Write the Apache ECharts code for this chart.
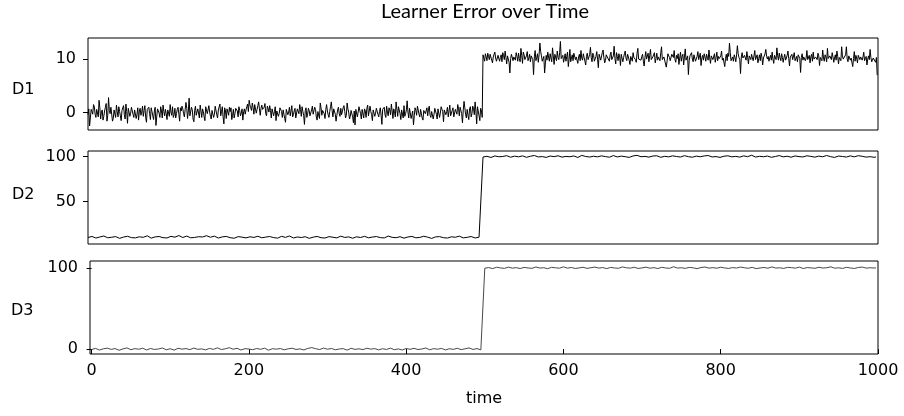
<!DOCTYPE html>
<html>
<head>
<meta charset="utf-8">
<script src="https://cdn.jsdelivr.net/npm/echarts@6/dist/echarts.min.js"></script>
<style>
  html, body { margin: 0; padding: 0; background: #fff; }
  #main { width: 904px; height: 416px; }
</style>
</head>
<body>
<div id="main"></div>
<script>
// sampling step (time units) of each series
var d1Step = 1;
var d2Step = 2.5;
var d3Step = 2.5;

var d1Values = [
  -0.4, 0.7, -2.5, -1.0, 0.6, 0.2, -0.3, 1.5, 1.1, -0.3,
  -0.9, 0.6, 0.4, -0.8, 2.3, 0.9, -1.2, 0.1, 0.5, -1.4,
  -0.7, 0.3, 1.0, 1.7, -1.6, -0.5, 2.8, 0.4, -0.2, 1.0,
  0.7, -1.6, -1.1, 0.5, 0.3, -0.9, 1.4, 0.2, -0.8, 1.1,
  0.2, -0.6, -1.5, 0.4, 0.9, 1.3, -0.4, -1.2, 1.6, 0.2,
  -2.0, 0.8, 0.5, -0.7, -0.1, 1.0, 1.2, -0.3, -0.9, 0.5,
  0.6, -1.1, -0.3, 0.9, -1.4, 0.3, 0.8, -0.5, 0.1, 1.2,
  -0.7, 0.4, 1.3, -0.9, -1.8, 0.6, 0.4, 1.0, -0.2, -1.3,
  0.9, 0.2, -0.6, -1.3, 0.3, 1.0, -2.4, -0.8, 0.7, 0.5,
  -0.1, -0.9, 1.1, 0.3, -1.0, 1.4, 0.2, -0.6, 0.6, -0.2,
  -1.3, 0.5, 0.4, -0.7, 1.5, 0.1, -0.5, 1.1, -0.9, -0.4,
  0.8, -1.0, -0.2, 0.6, 1.0, -0.3, -1.6, 0.9, 0.3, 1.2,
  0.7, -0.2, -0.8, 0.6, 1.9, 0.8, -1.1, 0.3, 2.7, -0.6,
  -0.4, 1.0, 0.5, -1.2, -1.7, 0.4, 1.2, -0.5, -0.3, 0.7,
  0.6, -1.0, 1.4, 0.3, -0.9, 0.7, 0.2, -0.8, -1.5, 1.1,
  0.8, -0.2, -0.4, 1.3, 0.1, -0.7, -1.2, 0.4, 0.5, -0.9,
  -0.3, 1.2, 0.9, -0.4, -1.0, 0.5, 0.4, 1.6, -0.6, 0.2,
  1.1, -0.8, -2.1, 0.9, 0.3, -1.1, 0.7, 0.1, -0.5, 1.0,
  0.2, 0.9, -1.3, -0.5, 0.6, -1.0, -0.2, 0.8, 1.0, 0.3,
  -0.8, 1.1, 0.4, -0.6, -0.1, 0.7, -1.4, 0.2, 0.7, -0.3,
  0.5, 1.1, 1.6, 0.2, 2.3, 1.4, 0.9, 0.4, 1.8, 0.9,
  -0.3, 1.5, 1.2, -0.1, 0.6, 1.3, 2.0, 0.7, -0.5, 0.8,
  1.4, 0.6, 0.3, 1.0, 1.7, -0.2, -0.6, 1.2, 0.8, 0.1,
  1.3, 0.4, -1.0, 0.7, 0.9, -0.6, 0.2, 1.1, -1.5, 0.3,
  0.6, -0.7, -0.2, 0.9, 1.1, 0.2, -0.9, 0.5, 0.4, -1.1,
  -1.8, 0.6, 0.7, -0.4, 0.1, 1.0, -0.6, 0.3, 1.3, -0.8,
  -0.4, 0.3, 0.8, -1.0, -1.2, 0.7, 0.5, -0.2, 1.5, 0.6,
  -0.7, 1.1, 0.2, -0.5, -2.2, 0.4, 0.9, -0.9, -0.3, 0.8,
  0.4, -0.6, -0.9, 0.5, 1.2, -0.3, -0.1, 1.0, 0.6, -0.8,
  -1.4, 0.2, 0.3, -1.1, 1.8, 0.9, -0.5, 0.4, 0.7, -0.2,
  -1.1, 0.6, 1.5, 0.3, -0.4, -0.9, 0.2, 1.1, 2.0, 0.4,
  -0.8, 0.7, 0.9, -0.3, -1.6, -0.5, 0.5, 1.0, -0.2, -0.7,
  0.8, -0.4, -0.6, 0.9, 1.3, 0.2, -1.0, -0.5, 1.8, 0.7,
  0.1, -1.2, -0.7, 0.4, 0.6, -0.8, -1.9, 0.3, -2.3, 0.6,
  0.4, -0.8, -0.5, 1.1, 1.0, -0.2, -1.2, 0.6, 0.3, -1.0,
  0.7, 0.3, -0.9, 0.8, 1.4, -0.6, -0.3, 1.2, 0.2, -0.4,
  -1.5, 0.5, 0.6, -0.7, -0.1, 0.8, 1.1, -0.3, -0.8, 0.2,
  0.9, -0.5, -2.2, 0.6, 0.3, 1.0, -0.4, -0.9, 1.2, 0.1,
  -0.6, 0.9, 0.5, -0.4, 1.6, 0.3, -1.1, 0.7, 0.2, -0.8,
  2.0, 0.6, -0.7, 1.1, 0.8, -0.2, -1.3, 0.5, 0.4, -1.0,
  1.3, -0.7, -0.2, 0.5, 2.2, 0.1, -1.0, 0.8, 0.6, -1.1,
  -0.4, 0.3, -2.3, -0.6, 0.9, 0.4, -0.5, 1.2, 1.0, -0.3,
  -0.8, 0.6, 0.3, -1.0, -1.4, 0.4, 0.7, -0.2, 0.1, 0.9,
  -0.6, 0.7, 1.2, -0.5, -0.9, 0.2, 0.5, -1.2, -0.3, 0.8,
  0.8, -0.3, -1.2, 0.7, 0.4, -0.9, -0.1, 1.1, 1.0, 0.2,
  -1.7, 0.5, 0.6, -0.4, 0.2, 1.0, -0.8, 0.3, 1.4, -0.6,
  -0.5, 0.4, 0.9, -0.8, -1.1, 0.6, 0.3, -0.3, 1.5, 0.8,
  -0.6, 1.0, 0.7, -0.2, -1.9, 0.5, 2.1, 0.9, -0.4, -1.0,
  0.6, -0.5, -1.3, 0.7, 1.1, -0.8, -0.2, 1.2, 0.8, -0.4,
  2.0, 0.3, -2.1, 1.1, 0.9, -0.6, -1.5, 0.8, 0.4, -0.9,
  10.8, 10.2, 9.6, 11.0, 10.4, 9.7, 11.1, 10.5, 9.9, 10.9,
  10.6, 9.8, 9.3, 10.4, 10.9, 11.3, 10.2, 9.6, 9.8, 10.7,
  11.0, 9.6, 10.3, 10.8, 9.5, 11.2, 10.7, 9.9, 11.5, 10.3,
  9.1, 10.6, 10.5, 9.4, 7.4, 10.1, 10.9, 11.0, 9.7, 10.4,
  10.4, 9.8, 11.2, 10.5, 9.6, 11.1, 10.1, 9.5, 12.0, 10.7,
  9.2, 11.3, 10.8, 9.9, 9.9, 10.6, 11.4, 9.7, 10.2, 10.9,
  9.5, 10.6, 10.9, 9.9, 7.1, 10.4, 11.6, 9.7, 10.3, 11.0,
  9.4, 10.8, 13.0, 11.4, 10.6, 9.6, 9.8, 10.5, 7.4, 9.3,
  10.7, 9.8, 11.3, 10.4, 9.6, 11.0, 10.2, 9.5, 12.1, 10.6,
  9.0, 10.9, 10.8, 9.7, 11.5, 10.3, 9.9, 11.2, 13.3, 10.1,
  10.1, 10.7, 9.4, 10.2, 11.0, 9.6, 10.5, 11.3, 8.6, 10.0,
  11.8, 9.5, 10.2, 10.8, 9.7, 11.1, 11.2, 9.9, 10.4, 10.6,
  9.2, 10.4, 10.9, 9.7, 11.6, 10.2, 9.8, 11.0, 10.3, 9.6,
  8.9, 10.5, 11.1, 9.9, 10.0, 10.8, 12.2, 10.3, 9.5, 11.1,
  10.7, 9.6, 9.9, 10.5, 11.4, 10.0, 8.4, 10.9, 10.6, 9.8,
  10.1, 11.2, 11.7, 10.3, 9.3, 9.7, 10.8, 10.6, 10.2, 9.9,
  9.6, 10.8, 11.3, 9.9, 10.0, 10.6, 12.4, 10.1, 9.1, 11.2,
  10.5, 9.7, 11.0, 10.4, 8.8, 10.9, 10.9, 9.5, 10.3, 11.0,
  11.5, 10.2, 9.7, 10.9, 10.4, 9.8, 9.0, 10.5, 10.8, 9.6,
  11.2, 10.3, 10.6, 9.9, 9.4, 11.1, 12.0, 10.0, 10.1, 9.7,
  9.8, 10.5, 10.9, 9.6, 8.7, 10.3, 11.4, 10.0, 10.2, 11.1,
  9.5, 10.7, 11.8, 9.9, 10.0, 10.4, 10.6, 11.2, 9.3, 10.1,
  11.1, 9.8, 10.4, 10.6, 9.7, 11.2, 12.3, 9.9, 9.9, 10.4,
  10.7, 10.1, 8.5, 9.6, 11.0, 10.8, 10.3, 9.7, 9.6, 10.9,
  10.8, 10.3, 11.6, 9.9, 9.4, 10.7, 10.1, 11.0, 9.0, 10.2,
  11.3, 9.6, 10.5, 10.9, 8.9, 10.4, 11.9, 9.8, 10.2, 10.6,
  7.1, 9.7, 10.6, 10.4, 11.2, 10.0, 9.5, 10.8, 10.9, 9.6,
  9.8, 10.5, 11.4, 9.9, 10.0, 11.1, 8.8, 10.2, 10.7, 9.8,
  11.0, 10.4, 9.6, 10.9, 10.3, 9.8, 11.7, 10.2, 9.2, 10.6,
  10.8, 9.9, 10.1, 11.0, 9.4, 10.3, 11.3, 9.7, 10.5, 10.1,
  9.9, 10.6, 11.5, 9.8, 10.2, 10.4, 8.6, 10.1, 10.9, 9.7,
  11.1, 10.5, 13.0, 11.2, 9.7, 10.0, 10.4, 9.6, 10.8, 10.3,
  9.5, 10.8, 12.5, 11.0, 10.3, 9.9, 7.3, 10.4, 11.2, 10.2,
  9.9, 10.7, 10.6, 9.8, 11.4, 10.3, 9.1, 10.6, 10.5, 9.9,
  10.9, 10.2, 9.7, 10.6, 11.6, 9.9, 10.2, 10.8, 9.3, 10.1,
  10.8, 9.7, 11.1, 10.4, 8.9, 10.2, 10.4, 11.0, 11.8, 10.5,
  10.0, 10.5, 9.6, 10.2, 10.7, 9.8, 11.3, 10.0, 9.2, 10.7,
  10.5, 9.9, 12.1, 10.6, 9.8, 11.1, 10.3, 9.7, 11.0, 10.3,
  9.4, 10.3, 10.9, 9.8, 10.2, 10.7, 11.5, 10.1, 8.7, 10.4,
  10.6, 10.9, 9.9, 10.2, 11.2, 9.7, 10.1, 10.5, 9.5, 10.8,
  10.8, 10.1, 7.5, 10.3, 11.0, 9.8, 10.4, 10.6, 9.7, 10.2,
  11.6, 9.9, 10.0, 10.7, 9.3, 10.4, 10.9, 9.6, 11.3, 10.0,
  9.8, 10.4, 10.5, 9.9, 11.1, 10.6, 8.8, 10.3, 10.2, 9.7,
  11.7, 10.2, 9.6, 10.8, 10.4, 9.5, 12.0, 10.1, 9.9, 10.6,
  10.6, 9.9, 11.2, 10.4, 9.4, 10.2, 10.8, 9.8, 11.5, 10.5,
  9.1, 10.3, 10.3, 9.7, 12.3, 10.6, 10.0, 10.1, 9.7, 10.8,
  12.3, 10.0, 9.5, 10.6, 10.9, 9.8, 10.2, 10.3, 8.6, 10.1,
  11.4, 9.6, 10.7, 10.2, 9.3, 10.7, 11.0, 9.9, 10.4, 10.4,
  9.8, 10.4, 11.3, 9.7, 10.1, 10.5, 8.9, 10.0, 10.6, 9.9,
  11.8, 10.3, 9.5, 9.6, 10.2, 10.1, 9.9, 9.4, 10.3, 7.0
];

var d2Values = [
  10.2, 10.9, 11.4, 10.0, 9.6, 11.1, 10.8, 9.8, 11.9, 10.6,
  9.9, 11.3, 10.5, 10.1, 11.2, 9.9, 9.3, 11.0, 10.7, 10.4,
  11.6, 10.3, 10.1, 11.2, 9.8, 10.7, 11.0, 9.7, 10.4, 11.5,
  12.1, 10.2, 9.5, 11.0, 10.9, 10.4, 11.3, 9.8, 10.0, 10.8,
  9.7, 10.8, 11.5, 10.2, 10.6, 11.4, 12.4, 10.9, 10.2, 11.0,
  11.8, 10.5, 9.9, 11.3, 10.3, 10.7, 11.1, 9.9, 10.8, 11.6,
  12.2, 11.1, 10.5, 10.9, 11.7, 10.3, 9.6, 10.5, 10.9, 11.8,
  11.4, 10.2, 10.0, 10.7, 9.4, 11.0, 11.2, 10.1, 10.6, 9.9,
  9.8, 10.6, 11.0, 10.4, 10.3, 11.1, 11.6, 10.0, 9.9, 10.8,
  10.7, 11.2, 11.3, 10.3, 10.1, 10.9, 9.5, 10.5, 11.5, 10.2,
  10.4, 11.0, 11.9, 10.5, 9.7, 10.1, 10.8, 11.3, 10.2, 9.8,
  11.1, 10.6, 9.3, 10.2, 10.6, 11.1, 11.4, 10.4, 10.0, 10.9,
  9.6, 10.4, 11.2, 10.8, 10.5, 11.1, 9.8, 10.6, 11.7, 10.0,
  10.3, 11.2, 10.9, 10.1, 9.4, 10.7, 11.0, 9.9, 10.2, 11.3,
  11.5, 10.6, 9.9, 10.2, 10.7, 10.9, 11.3, 10.5, 10.1, 11.0,
  9.7, 10.3, 11.8, 10.8, 10.4, 11.2, 10.0, 10.7, 11.1, 10.1,
  9.5, 10.7, 10.8, 10.1, 11.4, 10.5, 9.9, 11.0, 10.3, 10.9,
  11.6, 10.2, 10.6, 11.1, 9.2, 10.4, 10.9, 10.6, 11.2, 10.0,
  10.0, 11.1, 9.6, 10.4, 11.0, 10.2, 10.5, 10.9, 11.7, 10.3,
  9.8, 11.0, 10.4, 10.7, 11.3, 10.1, 9.7, 10.8, 10.6, 10.5,
  99.6, 100.1, 100.4, 99.7, 99.1, 100.5, 100.8, 100.0, 99.9, 99.5,
  100.2, 100.7, 101.1, 99.9, 99.4, 100.3, 100.6, 100.9, 99.8, 100.2,
  100.9, 100.0, 99.3, 100.6, 100.5, 99.8, 101.3, 100.2, 99.7, 100.9,
  100.1, 99.6, 99.2, 100.4, 100.7, 99.9, 100.0, 100.5, 101.0, 99.7,
  99.5, 100.4, 100.3, 100.0, 99.9, 100.6, 100.8, 99.7, 99.1, 100.3,
  101.4, 99.9, 100.2, 100.8, 99.6, 100.1, 100.5, 99.6, 99.8, 100.4,
  100.9, 99.8, 100.1, 100.5, 99.4, 100.2, 101.2, 99.9, 99.7, 100.7,
  100.6, 100.3, 100.0, 99.6, 99.2, 100.4, 100.8, 100.1, 101.5, 100.0,
  99.9, 100.6, 100.3, 99.7, 99.5, 100.2, 100.7, 100.0, 101.0, 100.5,
  99.3, 100.8, 100.4, 99.9, 99.8, 100.3, 100.9, 99.6, 100.2, 100.5,
  99.6, 100.3, 101.1, 100.5, 100.0, 99.8, 99.4, 100.2, 100.6, 100.0,
  99.9, 100.4, 100.8, 99.9, 101.3, 100.6, 99.7, 100.2, 100.1, 99.8,
  99.2, 100.4, 100.5, 99.9, 101.0, 100.6, 99.8, 100.1, 100.3, 100.8,
  99.5, 100.0, 100.9, 100.5, 100.0, 99.7, 101.6, 100.3, 99.6, 100.7,
  100.4, 100.0, 99.9, 100.6, 100.7, 100.2, 99.3, 99.8, 100.2, 100.5,
  101.2, 100.1, 99.8, 100.4, 100.5, 99.9, 99.4, 100.7, 100.8, 100.2,
  100.1, 100.5, 99.7, 100.2, 101.0, 99.8, 100.3, 100.7, 99.5, 100.1,
  100.6, 99.9, 99.9, 100.4, 101.3, 100.0, 100.0, 100.6, 99.2, 100.3,
  100.7, 100.0, 100.2, 100.5, 99.6, 100.2, 100.9, 99.9, 99.8, 100.6,
  101.1, 100.3, 100.4, 99.8, 99.5, 100.4, 100.0, 100.1, 99.3, 99.7
];

var d3Values = [
  -0.6, 0.2, 0.8, -0.5, -1.2, 0.7, 0.3, -0.9, 1.1, 0.4,
  -0.4, 0.9, 0.6, -0.3, -1.5, 0.5, 0.2, -0.8, 1.4, 0.0,
  -0.8, 0.4, 0.5, -0.6, -0.2, 0.8, 1.0, -0.2, -1.1, 0.3,
  0.7, -0.7, -0.5, 0.6, 0.1, -0.4, 1.3, 0.2, -0.9, 0.5,
  0.4, -0.2, -1.3, 0.6, 0.9, -0.5, -0.1, 0.8, 0.6, -0.4,
  -0.7, 0.3, 1.2, -0.8, -0.3, 0.7, 0.2, 0.1, -1.0, -0.3,
  0.8, 0.1, -0.4, 0.6, 1.5, -0.3, -0.6, 0.9, 0.3, -0.7,
  1.7, 0.4, -0.2, 0.8, 0.9, -0.5, -1.2, 0.2, 0.5, -0.6,
  0.0, 0.5, -0.8, 0.2, 0.7, -0.6, -0.3, 0.7, 1.1, -0.2,
  -1.4, 0.6, 0.4, -0.5, -0.1, 0.9, 0.6, -0.3, -0.9, 0.4,
  0.3, -0.4, 1.0, 0.3, -0.5, 0.8, 0.2, -0.7, -1.1, 0.5,
  0.8, -0.2, 1.8, 0.7, 0.4, 1.0, -0.6, -0.5, 1.2, 0.2,
  -0.2, 0.6, 0.7, -0.3, -0.9, 0.4, 0.1, -0.8, 0.5, 0.2,
  -1.3, 0.5, 0.9, -0.6, -0.4, 0.7, 0.3, -0.1, -0.7, 0.8,
  1.0, 0.3, -0.1, 0.7, 0.6, -0.4, -1.0, 0.5, 0.4, -0.2,
  -0.5, 0.9, 1.1, -0.3, -0.8, 0.4, 0.2, -0.6, -1.2, 0.1,
  0.7, -0.5, -0.3, 0.4, 0.9, 0.2, -0.6, 0.8, 0.1, -0.7,
  1.3, -0.1, -0.9, 0.6, 0.5, -0.4, -0.2, 0.3, 0.8, -0.8,
  -1.1, 0.2, 0.4, -0.6, -0.4, 0.7, 1.0, 0.1, -0.7, 0.5,
  0.3, -0.3, 1.4, 0.8, -0.5, 0.2, 0.6, -0.4, -1.0, 0.3,
  99.7, 100.2, 100.5, 99.9, 99.2, 100.6, 100.9, 100.0, 100.1, 99.6,
  99.5, 100.8, 101.0, 100.3, 99.8, 99.9, 100.4, 100.7, 99.3, 100.1,
  100.7, 99.8, 100.0, 100.4, 99.6, 100.1, 101.2, 99.7, 99.9, 100.6,
  100.3, 100.0, 99.1, 100.5, 100.8, 99.9, 100.2, 100.3, 99.7, 100.6,
  101.4, 100.0, 99.8, 100.5, 100.6, 99.9, 99.4, 100.7, 100.1, 100.2,
  100.9, 99.8, 99.5, 100.6, 100.3, 100.1, 101.1, 100.4, 99.9, 99.7,
  100.5, 100.3, 99.2, 100.6, 100.7, 99.9, 100.0, 100.4, 99.6, 100.1,
  101.3, 100.0, 100.2, 99.7, 99.8, 100.5, 100.9, 100.2, 99.4, 100.8,
  100.1, 100.6, 101.0, 100.2, 99.7, 99.9, 100.4, 100.5, 99.3, 100.0,
  100.8, 100.3, 100.0, 100.7, 99.6, 100.1, 101.5, 99.8, 99.9, 100.4,
  100.3, 99.9, 99.5, 100.4, 100.7, 100.1, 100.2, 100.6, 99.1, 100.0,
  100.6, 99.8, 101.2, 100.5, 99.8, 100.2, 100.4, 99.9, 99.7, 100.7,
  100.9, 100.2, 100.1, 99.8, 99.4, 100.6, 100.5, 100.1, 99.9, 100.4,
  101.1, 100.0, 100.3, 99.7, 99.6, 100.5, 100.8, 100.3, 99.2, 100.0,
  100.0, 100.4, 100.6, 100.1, 99.7, 100.5, 101.3, 99.8, 99.9, 100.6,
  100.2, 100.3, 99.5, 100.0, 100.7, 99.9, 100.4, 100.2, 99.8, 100.5,
  101.0, 100.2, 99.3, 100.7, 100.5, 99.9, 100.1, 100.4, 99.6, 100.0,
  100.9, 100.6, 99.9, 100.1, 100.3, 99.8, 101.4, 100.3, 99.7, 100.5,
  100.2, 100.4, 99.5, 100.1, 100.8, 99.8, 100.0, 100.5, 99.4, 100.2,
  100.6, 99.9, 101.1, 100.4, 99.8, 100.6, 100.3, 100.0, 99.9, 100.2
];

var xTicks = [0, 200, 400, 600, 800, 1000];
var d1Ticks = [0, 10];
var d2Ticks = [50, 100];
var d3Ticks = [0, 100];
var panelNames = ['D1', 'D2', 'D3'];

function toPairs(vals, step) {
  return vals.map(function (v, i) { return [i * step, v]; });
}

var font = 'DejaVu Sans';
var labelStyle = { color: '#000', fontFamily: font, fontSize: 16 };
var tickStyle = { show: true, length: 5, lineStyle: { color: '#000', width: 1 } };
var plain = function (v) { return String(v); };

function yAxis(idx, min, max, ticks) {
  return {
    type: 'value', gridIndex: idx, min: min, max: max,
    splitLine: { show: false },
    axisLine: { show: false },
    axisTick: Object.assign({ customValues: ticks }, tickStyle),
    axisLabel: Object.assign({ customValues: ticks, margin: 12, formatter: plain }, labelStyle)
  };
}

function hiddenX(idx) {
  return {
    type: 'value', gridIndex: idx, min: 0, max: 1000,
    splitLine: { show: false }, axisLine: { show: false },
    axisTick: { show: false }, axisLabel: { show: false }
  };
}

function panelLabel(i, x, y) {
  return {
    type: 'text',
    style: { x: x, y: y, text: panelNames[i], verticalAlign: 'middle',
             font: '16px "DejaVu Sans"', fill: '#000' }
  };
}

var chart = echarts.init(document.getElementById('main'), null, { renderer: 'canvas' });

chart.setOption({
  animation: false,
  backgroundColor: '#fff',
  title: {
    text: 'Learner Error over Time',
    left: 480, top: -3, textAlign: 'center',
    textStyle: { fontFamily: 'Lato', fontWeight: 'normal', fontSize: 20, color: '#000' }
  },
  grid: [
    { left: 88, right: 26, top: 38, height: 92, show: true, borderColor: '#000', borderWidth: 1 },
    { left: 88, right: 26, top: 151, height: 93, show: true, borderColor: '#000', borderWidth: 1 },
    { left: 90, right: 26, top: 261, height: 93, show: true, borderColor: '#000', borderWidth: 1 }
  ],
  xAxis: [
    hiddenX(0),
    hiddenX(1),
    {
      type: 'value', gridIndex: 2, min: -2, max: 1000,
      splitLine: { show: false }, axisLine: { show: false },
      axisTick: Object.assign({ customValues: xTicks }, tickStyle),
      axisLabel: Object.assign({ customValues: xTicks, margin: 9, formatter: plain }, labelStyle),
      name: 'time', nameLocation: 'middle', nameGap: 37,
      nameTextStyle: labelStyle
    }
  ],
  yAxis: [
    yAxis(0, -3.25, 13.94, d1Ticks),
    yAxis(1, 3.0, 106.3, d2Ticks),
    yAxis(2, -6.1, 108.6, d3Ticks)
  ],
  graphic: [
    panelLabel(0, 12, 90),
    panelLabel(1, 12, 195),
    panelLabel(2, 11, 311)
  ],
  series: [
    { type: 'line', xAxisIndex: 0, yAxisIndex: 0, data: toPairs(d1Values, d1Step),
      showSymbol: false, lineStyle: { color: '#000', width: 1 }, silent: true },
    { type: 'line', xAxisIndex: 1, yAxisIndex: 1, data: toPairs(d2Values, d2Step),
      showSymbol: false, lineStyle: { color: '#000', width: 1 }, silent: true },
    { type: 'line', xAxisIndex: 2, yAxisIndex: 2, data: toPairs(d3Values, d3Step),
      showSymbol: false, lineStyle: { color: '#333', width: 0.9 }, silent: true }
  ]
});
</script>
</body>
</html>
